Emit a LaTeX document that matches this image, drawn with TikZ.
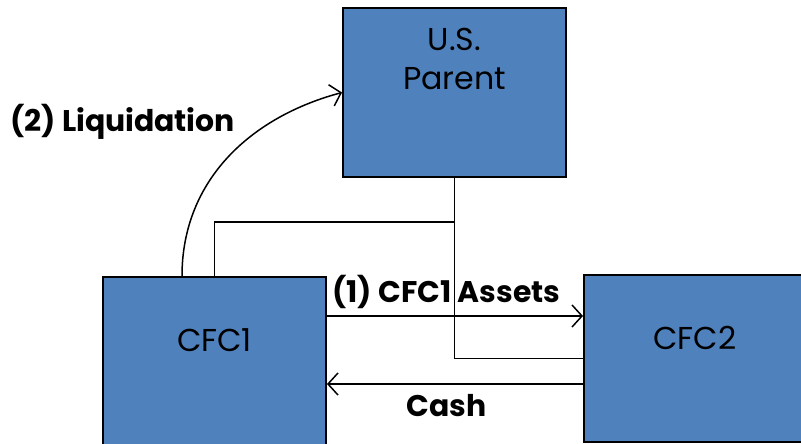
\documentclass[tikz,border=0pt]{standalone}
\usepackage{fontspec}
\setmainfont{Poppins}
\usepackage{tikz}
\usetikzlibrary{arrows.meta,calc,positioning}
\definecolor{boxblue}{HTML}{4F81BD}

\begin{document}
\begin{tikzpicture}[
block/.style={draw=black, line width=1.1pt, fill=boxblue, rectangle, minimum width=4.46cm, minimum height=3.38cm, inner sep=0pt},
blocktext/.style={font=\fontsize{18}{22.7}\selectfont, align=center},
flow/.style={font=\fontsize{17}{20}\selectfont\bfseries, inner sep=1pt},
line/.style={line width=0.85pt},
>={Straight Barb[length=2mm,width=4.4mm]}
]
    \clip (0,0) rectangle (16.02,8.86);

    \node [block] (parent) at (9.09,7.01) {};
    \node [block] (cfc1) at (4.29,1.63) {};
    \node [block, minimum height=3.34cm] (cfc2) at (13.91,1.69) {};

    \node [blocktext] (parent-txt) at (9.09,7.68) {U.S.\\Parent};
    \node [blocktext] (cfc1-txt) at (4.29,2.06) {CFC1};
    \node [blocktext] (cfc2-txt) at (13.90,2.10) {CFC2};

    \coordinate (join) at (parent.south |- 0,4.42);

  \draw[line] (parent.south) |- (cfc2.west);
  \draw[line] (cfc1.north) |- (join);
  \draw[line, ->] (cfc1.east |- 0,2.54) -- node[flow, above=1mm, xshift=-1.7mm] (assets-lbl) {(1) CFC1 Assets} (cfc2.west |- 0,2.54);
  \draw[line, ->] (cfc2.west |- 0,1.18) -- node[flow, below=1.6mm, xshift=-1.7mm] (cash-lbl) {Cash} (cfc1.east |- 0,1.18);
  \draw[line, ->] ([xshift=-6.5mm]cfc1.north) to[out=90, in=195] (parent.west);

    \node [flow, anchor=west] (liq-lbl) at (0.16,6.42) {(2) Liquidation};
\end{tikzpicture}
\end{document}
